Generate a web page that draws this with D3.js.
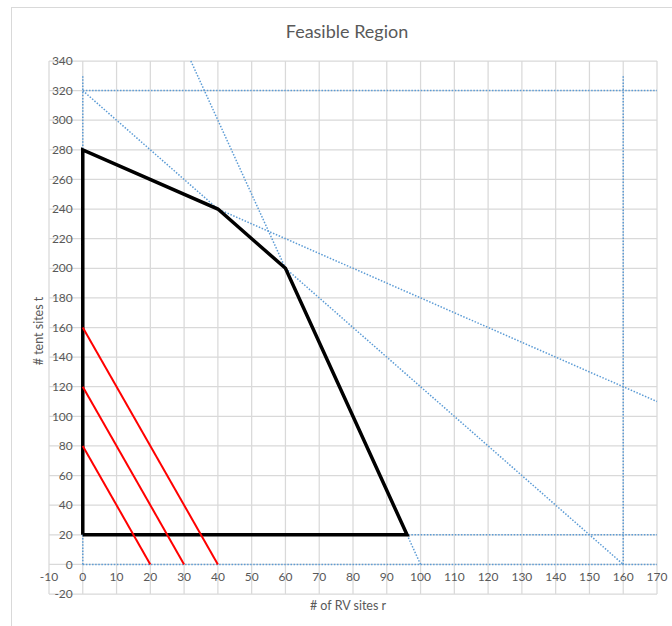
<!DOCTYPE html>
<html>
<head>
<meta charset="utf-8">
<script src="https://cdn.jsdelivr.net/npm/d3@7"></script>
<style>
  body { margin: 0; background: #fff; }
  svg { display: block; font-family: Lato, "Open Sans", sans-serif; }
</style>
</head>
<body>
<div id="chart"></div>
<script>
// tick values
const xTicks = [-10, 0, 10, 20, 30, 40, 50, 60, 70, 80, 90, 100, 110, 120, 130, 140, 150, 160, 170];
const yTicks = [-20, 0, 20, 40, 60, 80, 100, 120, 140, 160, 180, 200, 220, 240, 260, 280, 300, 320, 340];

// feasible region corners (r, t)
const feasible = [[0, 20], [0, 280], [40, 240], [60, 200], [96, 20], [0, 20]];

// constraint boundaries, drawn dotted
const constraints = [
  [[0, 320], [160, 0]],
  [[0, 280], [170, 110]],
  [[32, 340], [100, 0]],
  [[0, 320], [170, 320]],
  [[0, 20], [170, 20]],
  [[0, 0], [170, 0]],
  [[0, 0], [0, 330]],
  [[160, 0], [160, 330]],
];

// objective (iso-profit) lines
const objective = [
  [[0, 80], [20, 0]],
  [[0, 120], [30, 0]],
  [[0, 160], [40, 0]],
];

const width = 672, height = 626;
const svg = d3.select('#chart').append('svg')
  .attr('width', width)
  .attr('height', height);

// chart frame
svg.append('rect')
  .attr('x', 11.5).attr('y', 7.5)
  .attr('width', width).attr('height', height)
  .attr('fill', '#fff')
  .attr('stroke', '#d9d9d9');

const x = d3.scaleLinear().domain([-10, 170]).range([49, 657]);
const y = d3.scaleLinear().domain([-20, 340]).range([594, 61]);

// gridlines
svg.append('g')
  .selectAll('line')
  .data(xTicks)
  .join('line')
    .attr('x1', d => x(d)).attr('x2', d => x(d))
    .attr('y1', y(340)).attr('y2', y(-20))
    .attr('stroke', '#d9d9d9')
    .attr('stroke-width', 1.25);

svg.append('g')
  .selectAll('line')
  .data(yTicks)
  .join('line')
    .attr('x1', x(-10)).attr('x2', x(170))
    .attr('y1', d => y(d)).attr('y2', d => y(d))
    .attr('stroke', '#d9d9d9')
    .attr('stroke-width', 1.25);

// tick labels, placed next to the axes crossing at (0, 0)
svg.append('g')
  .selectAll('text')
  .data(xTicks)
  .join('text')
    .attr('x', d => x(d))
    .attr('y', y(0) + 17)
    .attr('text-anchor', 'middle')
    .attr('font-size', '12px')
    .attr('fill', '#595959')
    .text(d => d);

svg.append('g')
  .selectAll('text')
  .data(yTicks)
  .join('text')
    .attr('x', x(0) - 10)
    .attr('y', d => y(d))
    .attr('dy', '0.35em')
    .attr('text-anchor', 'end')
    .attr('font-size', '12px')
    .attr('fill', '#595959')
    .text(d => d);

const line = d3.line()
  .x(d => x(d[0]))
  .y(d => y(d[1]));

// dotted constraint lines
svg.append('g')
  .selectAll('path')
  .data(constraints)
  .join('path')
    .attr('d', line)
    .attr('fill', 'none')
    .attr('stroke', '#5b9bd5')
    .attr('stroke-width', 1.5)
    .attr('stroke-dasharray', '1.5 1.6');

// feasible region outline
svg.append('path')
  .datum(feasible)
  .attr('d', line)
  .attr('fill', 'none')
  .attr('stroke', '#000')
  .attr('stroke-width', 3.5)
  .attr('stroke-linejoin', 'miter');

// objective lines
svg.append('g')
  .selectAll('path')
  .data(objective)
  .join('path')
    .attr('d', line)
    .attr('fill', 'none')
    .attr('stroke', '#ff0000')
    .attr('stroke-width', 2);

// titles
svg.append('text')
  .attr('x', 347).attr('y', 38)
  .attr('text-anchor', 'middle')
  .attr('font-size', '18px')
  .attr('fill', '#595959')
  .text('Feasible Region');

svg.append('text')
  .attr('x', 348).attr('y', 610)
  .attr('text-anchor', 'middle')
  .attr('font-size', '12.5px')
  .attr('fill', '#595959')
  .text('# of RV sites r');

svg.append('text')
  .attr('transform', 'translate(43,331) rotate(-90)')
  .attr('text-anchor', 'middle')
  .attr('font-size', '12.5px')
  .attr('fill', '#595959')
  .text('# tent sites t');
</script>
</body>
</html>
